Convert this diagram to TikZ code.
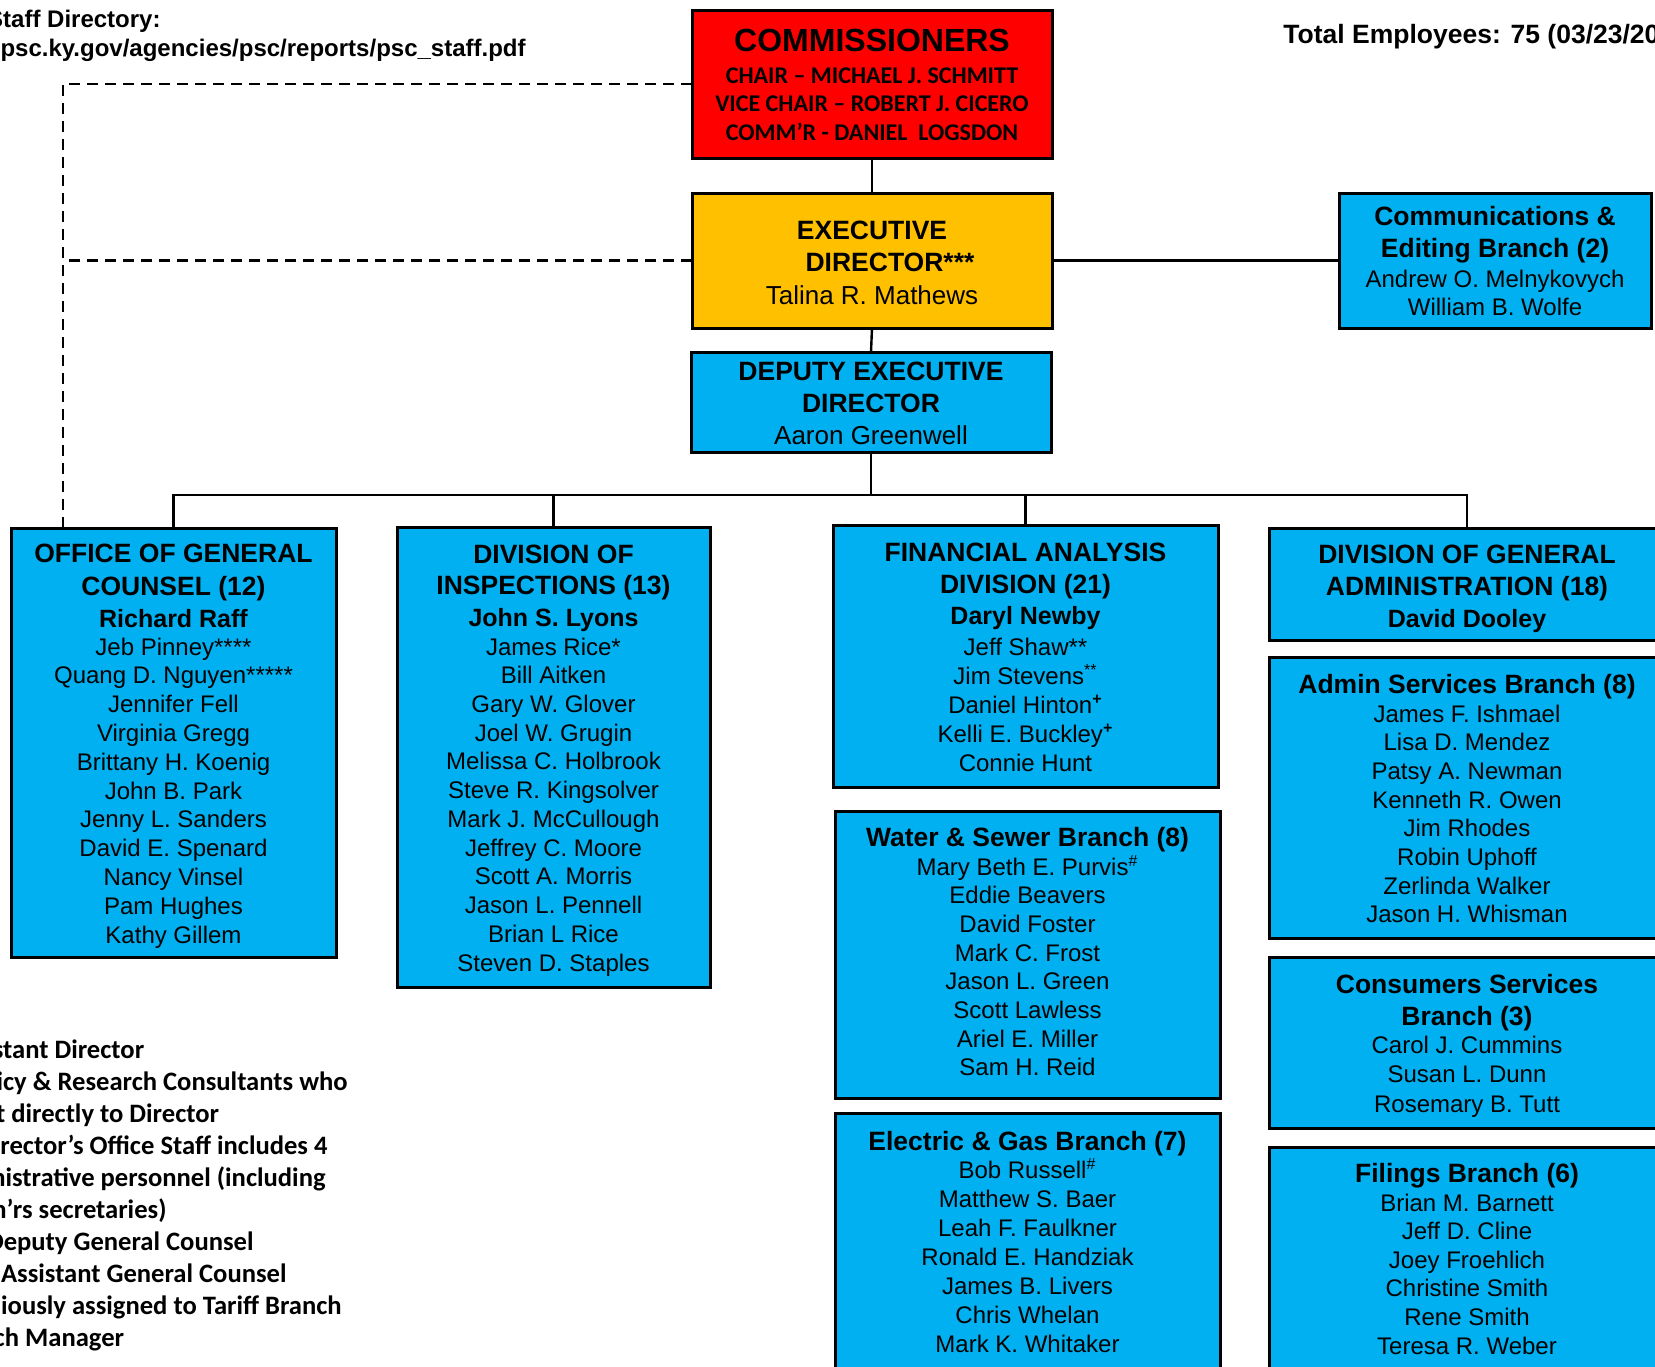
\documentclass[tikz,border=0pt]{standalone}
\usepackage{fontspec}
\setmainfont{Liberation Sans}
\newfontfamily\calfont{Carlito}
\definecolor{boxblue}{HTML}{00B0F0}
\definecolor{boxred}{HTML}{FF0000}
\definecolor{boxgold}{HTML}{FFC000}
\newcommand{\mybox}[6]{\node[bx, fill=#2, minimum width={(#5-#3)*0.5pt}, minimum height={(#6-#4)*0.5pt}] (#1) at ({(#3+#5)/2},{(#4+#6)/2}) {};}
\newcommand{\mystafflist}[5]{%
  \foreach \nm [count=\k] in {#5} {
    \node[nm] (#1-\k) at (#2, {#3+(\k-1)*#4}) {\nm};
  }}
\tikzset{
  bx/.style={draw, line width=1.5pt, rectangle, inner sep=0pt, outer sep=0pt},
  conn/.style={line width=1.2pt},
  dashline/.style={line width=1.3pt, dash pattern=on 5.5pt off 3.5pt},
  ttl/.style={font=\fontsize{13.25}{16}\selectfont\bfseries, anchor=base, inner sep=0pt},
  bnm/.style={font=\fontsize{12.5}{15}\selectfont\bfseries, anchor=base, inner sep=0pt},
  nm/.style={font=\fontsize{12}{14}\selectfont, anchor=base, inner sep=0pt},
  bignm/.style={font=\fontsize{13}{15}\selectfont, anchor=base, inner sep=0pt},
  comline/.style={font=\fontsize{12}{14}\selectfont\calfont\bfseries, anchor=base, inner sep=0pt},
  legend/.style={font=\fontsize{13.3}{16}\selectfont\calfont\bfseries, anchor=base east, inner sep=0pt},
  topnote/.style={font=\fontsize{12}{14}\selectfont\bfseries, inner sep=0pt},
}
\begin{document}
\begin{tikzpicture}[x=0.5pt, y=-0.5pt]
\useasboundingbox (0,0) rectangle (1655,1366);
\clip (0,0) rectangle (1655,1366);
\fill[white] (0,0) rectangle (1655,1366);

% ---------- boxes ----------
\mybox{comm}{boxred}{692}{10}{1052}{158}
\mybox{exec}{boxgold}{692}{193}{1052}{328}
\mybox{dep}{boxblue}{691}{352}{1051}{452}
\mybox{comms}{boxblue}{1339}{193}{1651}{328}
\mybox{ogc}{boxblue}{11}{528}{336}{957}
\mybox{insp}{boxblue}{397}{527}{710}{987}
\mybox{fa}{boxblue}{833}{525}{1218}{787}
\mybox{ws}{boxblue}{835}{811}{1220}{1098}
\mybox{eg}{boxblue}{835}{1113}{1220}{1385}
\mybox{dga}{boxblue}{1269}{528}{1665}{640}
\mybox{asb}{boxblue}{1269}{657}{1665}{938}
\mybox{csb}{boxblue}{1269}{957}{1665}{1128}
\mybox{fil}{boxblue}{1269}{1147}{1665}{1385}

% ---------- connectors ----------
\coordinate (bus) at (871,495);
\coordinate (dtop) at (63,84);
\draw[conn] (comm.south) -- (exec.north);
\draw[conn] (exec.south) -- (dep.north);
\draw[conn] (exec.east) -- (comms.west);
\draw[conn] (dep.south) -- (bus);
\draw[conn] (ogc.north) |- (bus) -| (dga.north);
\draw[conn] (insp.north) -- (insp.north |- bus);
\draw[conn] (fa.north) -- (fa.north |- bus);
\draw[dashline] (comm.west) -- (dtop) -- (dtop |- ogc.north);
\draw[dashline] (exec.west) -- (exec.west -| dtop);

% ---------- commissioners ----------
\node[font=\fontsize{16}{18}\selectfont\bfseries, anchor=base, inner sep=0pt] (commT) at (872,51) {COMMISSIONERS};
\node[comline] (commA) at (872,83) {CHAIR – MICHAEL J. SCHMITT};
\node[comline] (commB) at (872,111.5) {VICE CHAIR – ROBERT J. CICERO};
\node[comline] (commC) at (872,140) {COMM’R - DANIEL~~LOGSDON};

% ---------- executive director ----------
\node[ttl] (execA) at (872,239) {EXECUTIVE};
\node[ttl] (execB) at (890,271) {DIRECTOR***};
\node[bignm] (execC) at (872,304) {Talina R. Mathews};

% ---------- deputy ----------
\node[ttl] (depA) at (871,380) {DEPUTY EXECUTIVE};
\node[ttl] (depB) at (871,412) {DIRECTOR};
\node[bignm] (depC) at (871,444) {Aaron Greenwell};

% ---------- communications ----------
\node[ttl] (comA) at (1495,225) {Communications \&};
\node[ttl] (comB) at (1495,257) {Editing Branch (2)};
\mystafflist{comN}{1495}{287}{28.5}{Andrew O. Melnykovych, William B. Wolfe}

% ---------- general counsel ----------
\node[ttl] (ogcA) at (173.5,562) {OFFICE OF GENERAL};
\node[ttl] (ogcB) at (173.5,595) {COUNSEL (12)};
\node[bnm] (ogcC) at (173.5,627) {Richard Raff};
\mystafflist{ogcN}{173.5}{655}{28.8}{Jeb Pinney****, Quang D. Nguyen*****, Jennifer Fell, Virginia Gregg, Brittany H. Koenig, John B. Park, Jenny L. Sanders, David E. Spenard, Nancy Vinsel, Pam Hughes, Kathy Gillem}

% ---------- inspections ----------
\node[ttl] (inspA) at (553.5,563) {DIVISION OF};
\node[ttl] (inspB) at (553.5,594) {INSPECTIONS (13)};
\node[bnm] (inspC) at (553.5,626) {John S. Lyons};
\mystafflist{inspN}{553.5}{655}{28.73}{James Rice*, Bill Aitken, Gary W. Glover, Joel W. Grugin, Melissa C. Holbrook, Steve R. Kingsolver, Mark J. McCullough, Jeffrey C. Moore, Scott A. Morris, Jason L. Pennell, Brian L Rice, Steven D. Staples}

% ---------- financial analysis ----------
\node[ttl] (faA) at (1025.5,561) {FINANCIAL ANALYSIS};
\node[ttl] (faB) at (1025.5,593) {DIVISION (21)};
\node[bnm] (faC) at (1025.5,624) {Daryl Newby};
\mystafflist{faN}{1025.5}{655}{29}{Jeff Shaw**, Jim Stevens\textsuperscript{**}, Daniel Hinton\textsuperscript{\textbf{+}}, Kelli E. Buckley\textsuperscript{\textbf{+}}, Connie Hunt}

% ---------- water & sewer ----------
\node[ttl] (wsA) at (1027.5,846) {Water \& Sewer Branch (8)};
\mystafflist{wsN}{1027.5}{875}{28.7}{Mary Beth E. Purvis\textsuperscript{\#}, Eddie Beavers, David Foster, Mark C. Frost, Jason L. Green, Scott Lawless, Ariel E. Miller, Sam H. Reid}

% ---------- electric & gas ----------
\node[ttl] (egA) at (1027.5,1150) {Electric \& Gas Branch (7)};
\mystafflist{egN}{1027.5}{1178}{29}{Bob Russell\textsuperscript{\#}, Matthew S. Baer, Leah F. Faulkner, Ronald E. Handziak, James B. Livers, Chris Whelan, Mark K. Whitaker}

% ---------- general administration ----------
\node[ttl] (dgaA) at (1467,563) {DIVISION OF GENERAL};
\node[ttl] (dgaB) at (1467,595) {ADMINISTRATION (18)};
\node[bnm] (dgaC) at (1467,627) {David Dooley};

\node[ttl] (asbA) at (1467,693) {Admin Services Branch (8)};
\mystafflist{asbN}{1467}{722}{28.7}{James F. Ishmael, Lisa D. Mendez, Patsy A. Newman, Kenneth R. Owen, Jim Rhodes, Robin Uphoff, Zerlinda Walker, Jason H. Whisman}

\node[ttl] (csbA) at (1467,993) {Consumers Services};
\node[ttl] (csbB) at (1467,1025) {Branch (3)};
\mystafflist{csbN}{1467}{1053}{29.5}{Carol J. Cummins, Susan L. Dunn, Rosemary B. Tutt}

\node[ttl] (filA) at (1467,1182) {Filings Branch (6)};
\mystafflist{filN}{1467}{1211}{28.6}{Brian M. Barnett, Jeff D. Cline, Joey Froehlich, Christine Smith, Rene Smith, Teresa R. Weber}

% ---------- top notes ----------
\node[topnote, anchor=base east] (sd1) at (161,27.5) {Staff Directory:};
\node[topnote, anchor=base east] (sd2) at (526,56) {psc.ky.gov/agencies/psc/reports/psc\_staff.pdf};
\node[font=\fontsize{13.25}{16}\selectfont\bfseries, anchor=base west, inner sep=0pt] (tot) at (1283,43) {Total Employees: 75 (03/23/20};

% ---------- legend ----------
\node[legend] (lg1) at (144.6,1058) {stant Director};
\node[legend] (lg2) at (348,1090) {icy \& Research Consultants who};
\node[legend] (lg3) at (219.5,1122) {t directly to Director};
\node[legend] (lg4) at (328,1154) {rector’s Office Staff includes 4};
\node[legend] (lg5) at (326,1186) {nistrative personnel (including};
\node[legend] (lg6) at (167,1218) {n’rs secretaries)};
\node[legend] (lg7) at (254,1250) {Deputy General Counsel};
\node[legend] (lg8) at (287,1282) {Assistant~General Counsel};
\node[legend] (lg9) at (342,1314) {iously assigned to Tariff Branch};
\node[legend] (lg10) at (124.5,1346) {ch Manager};
\end{tikzpicture}
\end{document}
